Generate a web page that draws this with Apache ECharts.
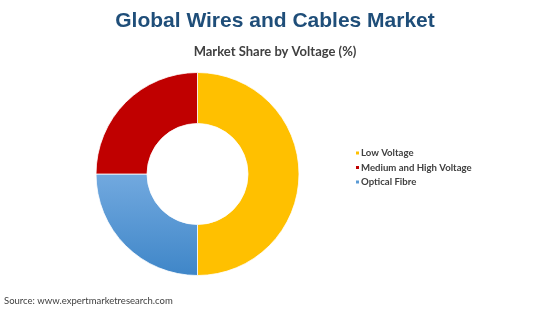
<!DOCTYPE html>
<html>
<head>
<meta charset="utf-8">
<script src="https://cdn.jsdelivr.net/npm/echarts@6/dist/echarts.min.js"></script>
<style>html,body{margin:0;padding:0;background:#fff}#c{width:550px;height:309px}</style>
</head>
<body>
<div id="c"></div>
<script>
const categories = ['Low Voltage', 'Medium and High Voltage', 'Optical Fibre'];
const values = [50, 25, 25];
const drawOrder = ['Low Voltage', 'Optical Fibre', 'Medium and High Voltage'];
const colors = {
  'Low Voltage': '#ffc000',
  'Medium and High Voltage': '#c00000',
  'Optical Fibre': new echarts.graphic.LinearGradient(0, 0, 0, 1, [
    {offset: 0, color: '#72a9df'},
    {offset: 1, color: '#3f86c8'}
  ])
};
const legendColors = {'Low Voltage':'#ffc000','Medium and High Voltage':'#c00000','Optical Fibre':'#5b9bd5'};

const chart = echarts.init(document.getElementById('c'), null, {renderer: 'canvas'});
const pieData = drawOrder.map(n => ({
  name: n,
  value: values[categories.indexOf(n)],
  itemStyle: {color: colors[n]}
}));
chart.setOption({
  backgroundColor: '#fff',
  animation: false,
  title: [
    {text: 'Global Wires and Cables Market', left: 'center', top: 6,
     textStyle: {fontFamily: 'Liberation Sans, Arial', fontWeight: 'bold', fontSize: 21, color: '#1f4e79'}},
    {text: 'Market Share by Voltage (%)', left: 'center', top: 40,
     textStyle: {fontFamily: 'Lato', fontWeight: 'bold', fontSize: 13, color: '#404040'}},
    {text: 'Source: www.expertmarketresearch.com', left: 4, top: 296, padding: 0,
     textStyle: {fontFamily: 'Lato', fontWeight: 'normal', fontSize: 9.5, color: '#404040'}}
  ],
  legend: {
    orient: 'vertical', left: 354, top: 147, padding: 0,
    icon: 'rect', itemWidth: 5, itemHeight: 5, itemGap: 2.5,
    data: categories.map(n => ({name: n, itemStyle: {color: legendColors[n]}})),
    textStyle: {fontFamily: 'Lato', fontWeight: 'bold', fontSize: 9.6, color: '#404040', lineHeight: 12, padding: [0,0,0,-4]}
  },
  series: [{
    type: 'pie',
    center: [197.5, 174],
    radius: [50.5, 101.5],
    startAngle: 90,
    clockwise: true,
    label: {show: false},
    labelLine: {show: false},
    emphasis: {disabled: true},
    itemStyle: {borderColor: '#fff', borderWidth: 0.8},
    data: pieData
  }]
});
</script>
</body>
</html>
